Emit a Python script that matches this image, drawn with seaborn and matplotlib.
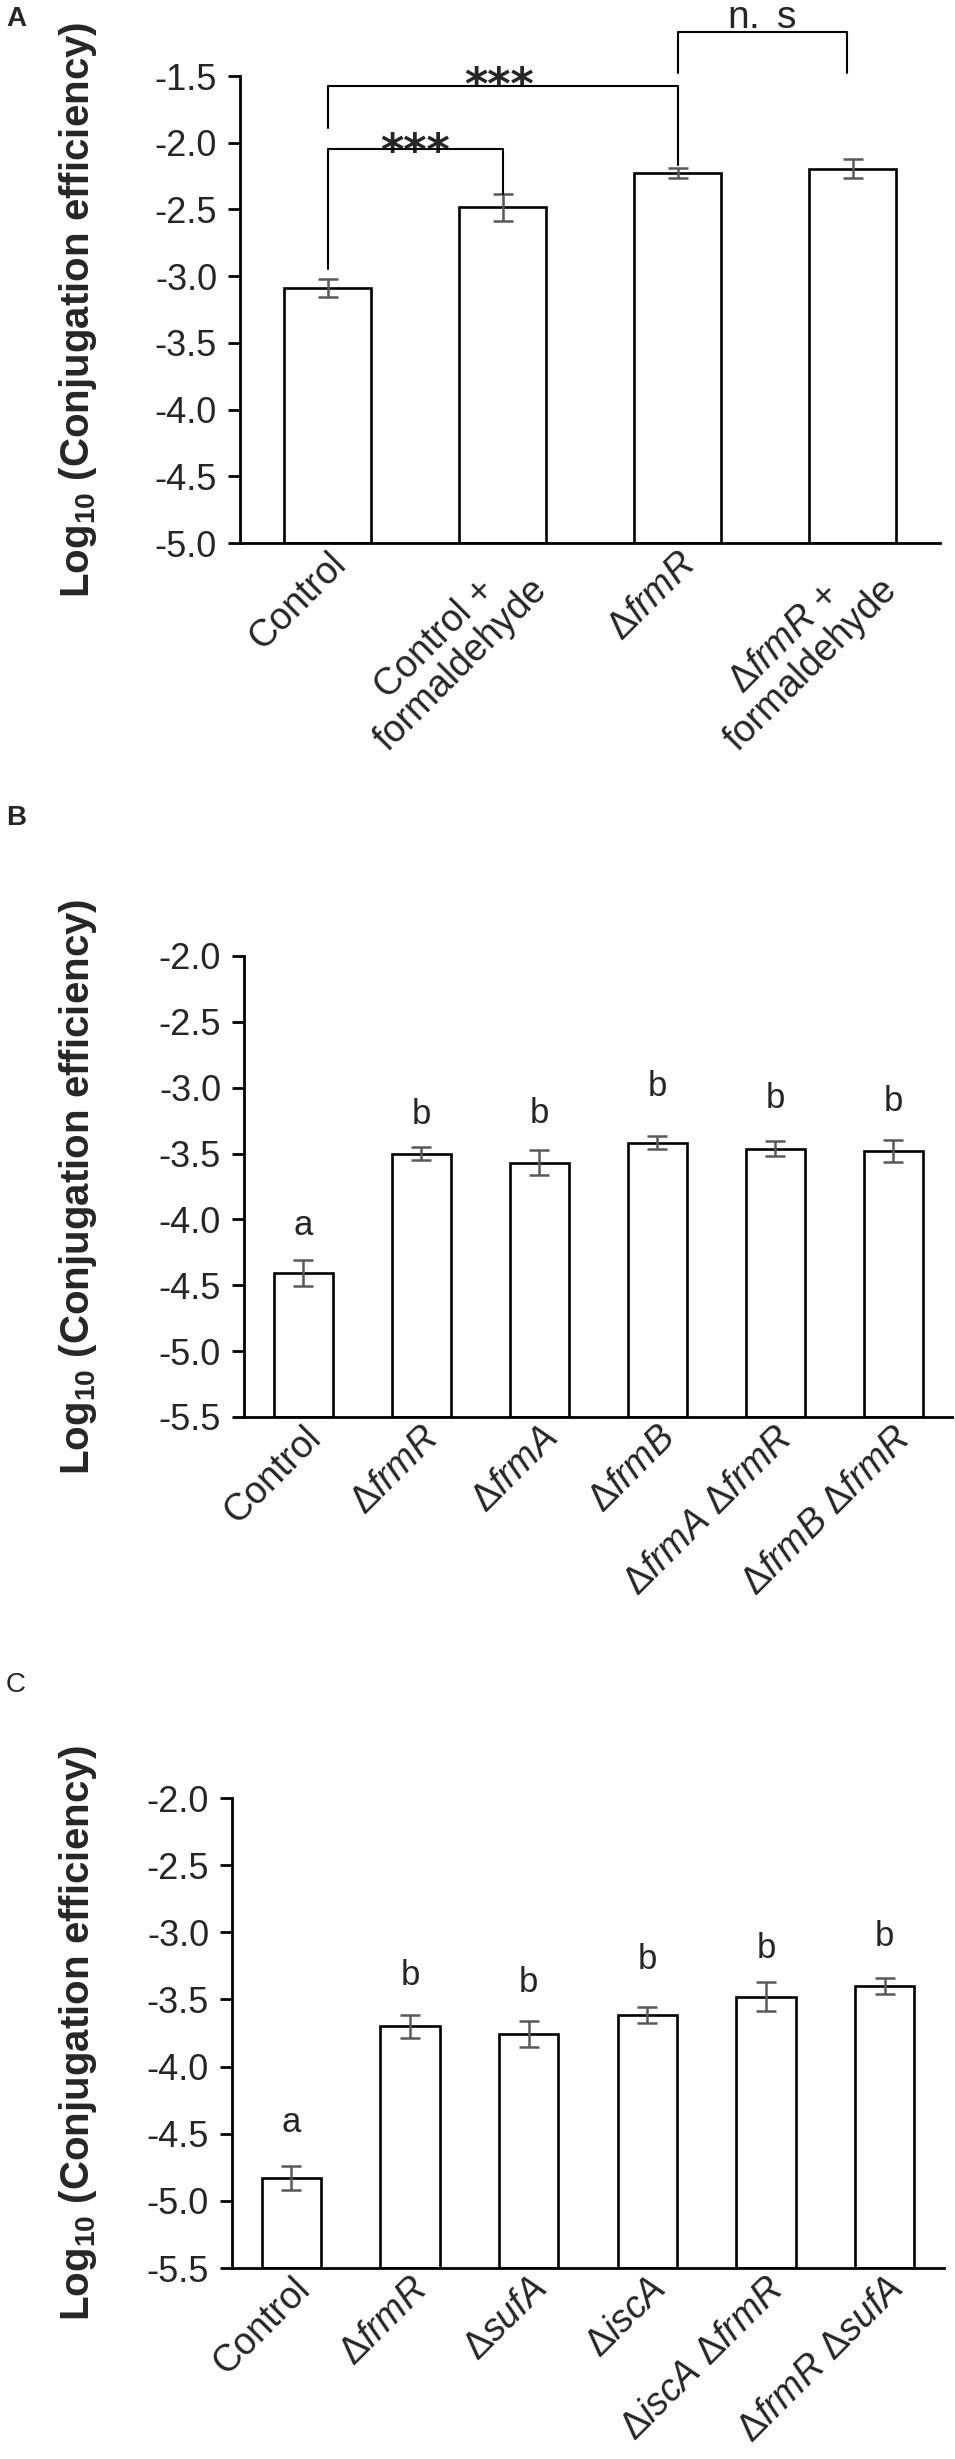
import matplotlib
matplotlib.use("Agg")
import matplotlib.pyplot as plt
import matplotlib.transforms as mtransforms
import seaborn as sns
import pandas as pd

# ---------------- data ----------------
# Panel A
A_labels = ["Control", "Control +\nformaldehyde", r"$\Delta\mathit{frmR}$",
            "$\\Delta\\mathit{frmR}$ +\nformaldehyde"]
A_values = [-3.088, -2.484, -2.225, -2.194]
A_errors = [0.067, 0.102, 0.037, 0.069]
A_ylim = (-5.0, -1.5)
A_yticks = [-5.0, -4.5, -4.0, -3.5, -3.0, -2.5, -2.0, -1.5]
# significance brackets: (x1, x2, y_line, y_end1, y_end2, text, text_x, text_baseline)
A_brackets = [
    (0, 1, -2.049, -2.95, -2.382, "***", 0.50, -2.17),
    (0, 2, -1.578, -1.892, -2.166, "***", 0.98, -1.67),
    (2, 2.97, -1.167, -1.48, -1.48, "n. s", 2.48, -1.14),
]

# Panel B
B_labels = ["Control", r"$\Delta\mathit{frmR}$", r"$\Delta\mathit{frmA}$", r"$\Delta\mathit{frmB}$",
            r"$\Delta\mathit{frmA}$ $\Delta\mathit{frmR}$", r"$\Delta\mathit{frmB}$ $\Delta\mathit{frmR}$"]
B_values = [-4.405, -3.50, -3.569, -3.416, -3.464, -3.48]
B_errors = [0.10, 0.05, 0.097, 0.052, 0.056, 0.082]
B_letters = ["a", "b", "b", "b", "b", "b"]
B_letter_y = [-4.12, -3.275, -3.267, -3.062, -3.154, -3.175]
B_ylim = (-5.5, -2.0)
B_yticks = [-5.5, -5.0, -4.5, -4.0, -3.5, -3.0, -2.5, -2.0]

# Panel C
C_labels = ["Control", r"$\Delta\mathit{frmR}$", r"$\Delta\mathit{sufA}$", r"$\Delta\mathit{iscA}$",
            r"$\Delta\mathit{iscA}$ $\Delta\mathit{frmR}$", r"$\Delta\mathit{frmR}$ $\Delta\mathit{sufA}$"]
C_values = [-4.83, -3.70, -3.76, -3.615, -3.48, -3.40]
C_errors = [0.092, 0.086, 0.096, 0.06, 0.107, 0.059]
C_letters = ["a", "b", "b", "b", "b", "b"]
C_letter_y = [-4.49, -3.396, -3.443, -3.271, -3.189, -3.103]
C_ylim = (-5.5, -2.0)
C_yticks = [-5.5, -5.0, -4.5, -4.0, -3.5, -3.0, -2.5, -2.0]

YLABEL = r"Log$_{\mathbf{10}}$ (Conjugation efficiency)"

# ---------------- style ----------------
sns.set_theme(style="ticks")
plt.rcParams["font.family"] = ["Liberation Sans", "DejaVu Sans"]
plt.rcParams["mathtext.fontset"] = "custom"
plt.rcParams["mathtext.rm"] = "Liberation Sans"
plt.rcParams["mathtext.it"] = "Liberation Sans:italic"
plt.rcParams["mathtext.bf"] = "Liberation Sans:bold"

YTICK_FS = 26
XTICK_FS = 27
LETTER_FS = 25
W, H = 955, 2459
fig = plt.figure(figsize=(W / 100, H / 100), dpi=100)


def px_axes(left, right, top, bottom):
    return fig.add_axes([left / W, 1 - bottom / H, (right - left) / W, (bottom - top) / H])


def draw_panel(ax, labels, values, errors, ylim, yticks, ylabel_x):
    ymin, ymax = ylim
    df = pd.DataFrame({"cond": labels, "val": values})
    df["height"] = df["val"] - ymin
    sns.barplot(data=df, x="cond", y="height", bottom=ymin, color="white", saturation=1,
                edgecolor="black", linewidth=1.9, width=0.5, errorbar=None, ax=ax, zorder=2)
    n = len(values)
    ax.errorbar(range(n), values, yerr=errors, fmt="none", ecolor="#595959",
                elinewidth=1.8, capsize=7, capthick=1.8, zorder=3)
    ax.set_xlim(-0.5, n - 0.5)
    ax.set_ylim(ymin, ymax)
    ax.set_yticks(yticks)
    ax.set_yticklabels([f"{t:.1f}" for t in yticks], fontsize=YTICK_FS)
    ax.set_xticks(range(n))
    ticklabels = ax.set_xticklabels(labels, rotation=45, ha="right", va="top",
                                    rotation_mode="anchor", multialignment="center",
                                    fontsize=XTICK_FS, linespacing=1.05)
    for lbl in ticklabels:
        dy = 22 if "\n" in lbl.get_text() else 2
        off = mtransforms.ScaledTranslation(-24 / 100, dy / 100, fig.dpi_scale_trans)
        lbl.set_transform(lbl.get_transform() + off)
    ax.tick_params(axis="x", length=0, pad=2)
    ax.tick_params(axis="y", length=8.5, width=2.0, pad=8, color="black")
    for s in ["top", "right"]:
        ax.spines[s].set_visible(False)
    for s in ["left", "bottom"]:
        ax.spines[s].set_linewidth(2.0)
        ax.spines[s].set_color("black")
    ax.set_xlabel("")
    ax.set_ylabel(YLABEL, fontsize=29, fontweight="bold")
    ax.yaxis.set_label_coords(ylabel_x, 0.5)


# Panel A
axA = px_axes(240, 940, 76, 543)
draw_panel(axA, A_labels, A_values, A_errors, A_ylim, A_yticks, (99 - 240) / 700)
for x1, x2, yl, e1, e2, txt, tx, ty in A_brackets:
    axA.plot([x1, x1, x2, x2], [e1, yl, yl, e2], color="black", lw=1.5, clip_on=False, zorder=4)
    if txt == "***":
        axA.text(tx, ty, txt, ha="center", va="baseline", fontsize=32, fontweight="bold",
                 family="DejaVu Sans", clip_on=False)
    else:
        # mathtext gives a tight box around the glyphs
        axA.text(tx, ty, r"$\mathrm{" + txt.replace(" ", r"\ ") + "}$", ha="center",
                 va="baseline", fontsize=28, clip_on=False)

# Panel B
axB = px_axes(244, 952, 956, 1417)
draw_panel(axB, B_labels, B_values, B_errors, B_ylim, B_yticks, (99 - 244) / 708)
for i, (lt, ly) in enumerate(zip(B_letters, B_letter_y)):
    axB.text(i, ly, lt, ha="center", va="baseline", fontsize=LETTER_FS)

# Panel C
axC = px_axes(232, 944, 1798, 2268)
draw_panel(axC, C_labels, C_values, C_errors, C_ylim, C_yticks, (99 - 232) / 712)
for i, (lt, ly) in enumerate(zip(C_letters, C_letter_y)):
    axC.text(i, ly, lt, ha="center", va="baseline", fontsize=LETTER_FS)

# panel letters
for lt, y, wt in [("A", 19, "bold"), ("B", 818, "bold"), ("C", 1685, "normal")]:
    fig.text(6 / W, 1 - y / H, lt, ha="left", va="center", fontsize=20, fontweight=wt)

fig.savefig("out.png", dpi=100)
